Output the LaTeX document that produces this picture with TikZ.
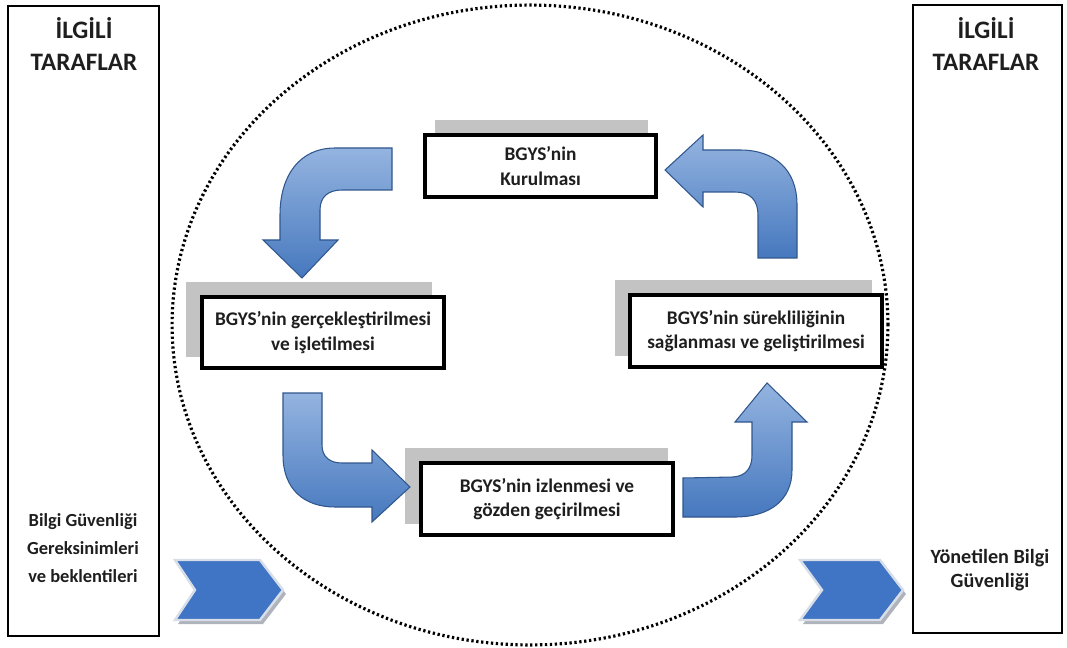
\documentclass[tikz,border=0pt]{standalone}
\usepackage{fontspec}
\setmainfont{Carlito}
\usetikzlibrary{positioning,calc,backgrounds,shapes.geometric}

\definecolor{shadegray}{RGB}{195,195,195}
\definecolor{chevblue}{RGB}{64,116,196}
\definecolor{chevrim}{RGB}{215,222,232}
\definecolor{chevshade}{RGB}{175,180,188}
\definecolor{arrowlight}{RGB}{148,180,224}
\definecolor{arrowdark}{RGB}{70,120,190}
\definecolor{arrowedge}{RGB}{48,86,142}
\definecolor{inktext}{RGB}{30,30,30}

\tikzset{
  sidebox/.style={draw, line width=0.8pt, inner sep=0pt},
  stagebox/.style={draw, fill=white, line width=2.2pt, align=center, inner sep=2pt,
    text=inktext, font=\bfseries\fontsize{11}{14}\selectfont},
  heading/.style={align=center, text=inktext, font=\bfseries\fontsize{14.3}{18.7}\selectfont},
  sidetext/.style={align=center, text=inktext, font=\bfseries\fontsize{10.5}{16}\selectfont},
  bentarrow/.style={top color=arrowlight, bottom color=arrowdark, draw=arrowedge, line width=0.6pt},
  chevron/.style={fill=chevblue, draw=chevrim, line width=1.4pt},
}

\begin{document}
\begin{tikzpicture}[x=0.02cm, y=-0.02cm]

    \useasboundingbox (0,0) rectangle (1067,648);

    % Outer boxes for the interested parties
    \node[sidebox, minimum width=3.02cm, minimum height=12.6cm] (lside) at (83.5,321) {};
    \node[sidebox, minimum width=2.98cm, minimum height=12.56cm] (rside) at (987.5,319) {};

    \node[heading] (lhead) at (84,44) {İLGİLİ\\TARAFLAR};
    \node[heading] (rhead) at (986,44) {İLGİLİ\\TARAFLAR};

    \node[sidetext] (linput) at (83,548) {Bilgi Güvenliği\\Gereksinimleri\\ve beklentileri};
    \node[sidetext, font=\bfseries\fontsize{11.5}{14}\selectfont] (routput) at (990,570) {Yönetilen Bilgi\\Güvenliği};

    % Dotted cycle
    \node[draw, ellipse, dash pattern=on 1.3pt off 1.5pt, line width=1.8pt,
          minimum width=14.32cm, minimum height=12.8cm, inner sep=0pt] (ring) at (530,325) {};

    % Stages of the cycle
    \node[stagebox, minimum width=4.62cm, minimum height=1.24cm] (kur) at (540.5,166) {BGYS’nin\\Kurulması};
    \node[stagebox, minimum width=4.84cm, minimum height=1.42cm] (ger) at (323,332.5) {BGYS’nin gerçekleştirilmesi\\ve işletilmesi};
    \node[stagebox, minimum width=5.04cm, minimum height=1.44cm] (izl) at (547,499) {BGYS’nin izlenmesi ve\\gözden geçirilmesi};
    \node[stagebox, minimum width=5.04cm, minimum height=1.44cm] (sur) at (756,331) {BGYS’nin sürekliliğinin\\sağlanması ve geliştirilmesi};

    % Gray backs
    \begin{scope}[on background layer]
        \fill[shadegray] ($(kur.north west)+(12,-13)$) rectangle ($(kur.south east)+(-10,-13)$);
        \fill[shadegray] ($(ger.north west)+(-14,-13)$) rectangle ($(ger.south east)+(-14,-13)$);
        \fill[shadegray] ($(izl.north west)+(-14,-13)$) rectangle ($(izl.south east)+(-7,-13)$);
        \fill[shadegray] ($(sur.north west)+(-13,-13)$) rectangle ($(sur.south east)+(-12,-13)$);
    \end{scope}

    % Bent arrows
    \draw[bentarrow] (392,148) -- (335,148) .. controls (300,148) and (280,175) .. (280,215)
        -- (280,240) -- (263,240) -- (302,278) -- (338,240) -- (320,240) -- (320,210)
        .. controls (320,197) and (328,190) .. (342,190) -- (392,190) -- cycle;
    \draw[bentarrow] (283,393) -- (322,393) -- (322,445) .. controls (322,457) and (330,463) .. (342,463)
        -- (372,463) -- (372,450) -- (410,487) -- (372,522) -- (372,507) -- (335,507)
        .. controls (305,507) and (283,490) .. (283,455) -- cycle;
    \draw[bentarrow] (683,478) -- (733,477) .. controls (746,476) and (752,468) .. (752,455)
        -- (752,422) -- (735,422) -- (767,383) -- (807,422) -- (792,422) -- (792,470)
        .. controls (792,500) and (770,517) .. (735,517) -- (683,517) -- cycle;
    \draw[bentarrow] (758,258) -- (797,258) -- (797,205) .. controls (797,170) and (775,150) .. (740,150)
        -- (703,150) -- (703,135) -- (665,170) -- (703,207) -- (703,192) -- (735,192)
        .. controls (750,192) and (758,200) .. (758,215) -- cycle;

    % Chevrons in and out
    \fill[chevshade] (178,564) -- (263,564) -- (286,594) -- (263,624) -- (178,624) -- (198,594) -- cycle;
    \draw[chevron] (175,560) -- (260,560) -- (283,590) -- (260,620) -- (175,620) -- (195,590) -- cycle;
    \fill[chevshade] (803,564) -- (883,564) -- (906,594) -- (883,624) -- (803,624) -- (825,594) -- cycle;
    \draw[chevron] (800,560) -- (880,560) -- (903,590) -- (880,620) -- (800,620) -- (822,590) -- cycle;

\end{tikzpicture}
\end{document}
